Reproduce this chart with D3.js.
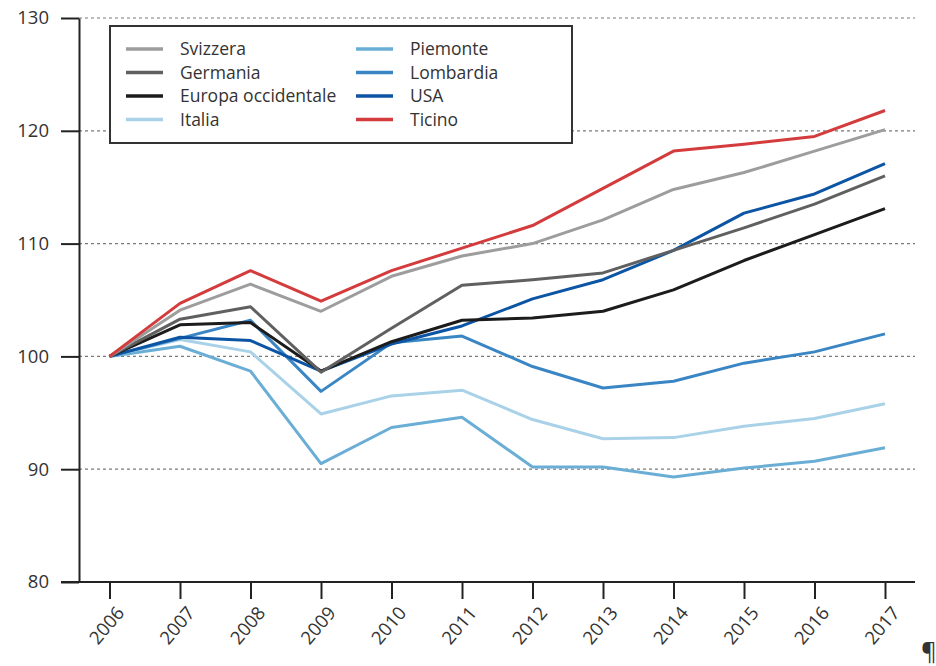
<!DOCTYPE html>
<html><head><meta charset="utf-8">
<script src="https://cdn.jsdelivr.net/npm/d3@7"></script>
<style>body{margin:0;background:#fff;} svg{display:block;} text{font-family:"Open Sans",sans-serif;fill:#333;}</style>
</head><body>
<svg id="c" width="936" height="666"></svg>
<script>
const years = ["2006","2007","2008","2009","2010","2011","2012","2013","2014","2015","2016","2017"];
const yTicks = [80, 90, 100, 110, 120, 130];
const seriesNames = ["Svizzera","Germania","Europa occidentale","Italia","Piemonte","Lombardia","USA","Ticino"];
const seriesColors = ["#9d9d9d","#606060","#1c1c1c","#a9d2e8","#6aaed6","#3a86c4","#0c55a5","#d43b3c"];
const svizzera  = [100,104.1,106.4,104.0,107.1,108.9,110.0,112.1,114.8,116.3,118.2,120.1];
const germania  = [100,103.3,104.4,98.6,102.5,106.3,106.8,107.4,109.4,111.4,113.5,116.0];
const europa    = [100,102.8,103.0,98.7,101.3,103.2,103.4,104.0,105.9,108.5,110.8,113.1];
const italia    = [100,101.5,100.4,94.9,96.5,97.0,94.4,92.7,92.8,93.8,94.5,95.8];
const piemonte  = [100,100.9,98.7,90.5,93.7,94.6,90.2,90.2,89.3,90.1,90.7,91.9];
const lombardia = [100,101.6,103.2,96.9,101.2,101.8,99.1,97.2,97.8,99.4,100.4,102.0];
const usa       = [100,101.7,101.4,98.7,101.1,102.7,105.1,106.8,109.4,112.7,114.4,117.1];
const ticino    = [100,104.7,107.6,104.9,107.6,109.6,111.6,114.9,118.2,118.8,119.5,121.8];
const seriesValues = [svizzera,germania,europa,italia,piemonte,lombardia,usa,ticino];
const drawOrder = [4,3,5,6,2,1,0,7];

const svg = d3.select("#c");
const x = d3.scalePoint().domain(years).range([109.5, 885]);
const y = d3.scaleLinear().domain([80,130]).range([582, 18]);
const axisX0 = 79, plotRight = 915;

// gridlines
svg.append("g").selectAll("line").data(yTicks.filter(d=>d>80)).join("line")
  .attr("x1", axisX0).attr("x2", plotRight)
  .attr("y1", d=>y(d)).attr("y2", d=>y(d))
  .attr("stroke", "#7a7a7a").attr("stroke-width", 1.2).attr("stroke-dasharray", "3,3");

// y axis
const yAxis = svg.append("g").attr("transform", `translate(${axisX0},0)`)
  .call(d3.axisLeft(y).tickValues(yTicks).tickSize(18).tickPadding(12).tickSizeOuter(0));
yAxis.select(".domain").attr("stroke", "#222").attr("stroke-width", 2);
yAxis.selectAll(".tick line").attr("stroke", "#222").attr("stroke-width", 2);
yAxis.selectAll("text").style("font-size", "18.5px").attr("fill", "#333");

// x axis
const xAxis = svg.append("g").attr("transform", `translate(0,582)`)
  .call(d3.axisBottom(x).tickSize(17).tickSizeOuter(0));
xAxis.select(".domain").attr("d", `M61,0H${plotRight}`).attr("stroke", "#222").attr("stroke-width", 2);
xAxis.selectAll(".tick line").attr("stroke", "#222").attr("stroke-width", 2);
xAxis.selectAll("text").style("font-size", "18.5px").attr("fill", "#333")
  .attr("text-anchor", "end").attr("dy", null).attr("y", 0)
  .attr("transform", "translate(3,21) rotate(-50)")
  .attr("dominant-baseline", "hanging");

// lines
const line = d3.line().x((d,i)=>x(years[i])).y(d=>y(d));
svg.append("g").selectAll("path").data(drawOrder).join("path")
  .attr("d", k=>line(seriesValues[k]))
  .attr("fill", "none").attr("stroke", k=>seriesColors[k])
  .attr("stroke-width", 3).attr("stroke-linejoin", "round");

// legend
const lg = svg.append("g");
lg.append("rect").attr("x", 110).attr("y", 26).attr("width", 462).attr("height", 117)
  .attr("fill", "#fff").attr("stroke", "#333").attr("stroke-width", 2);
const items = lg.selectAll("g").data(seriesNames.map((n,i)=>({n,i}))).join("g")
  .attr("transform", d=>`translate(${d.i<4?126:356},${49 + (d.i%4)*23.5})`);
items.append("line").attr("x1",0).attr("x2",37).attr("y1",0).attr("y2",0)
  .attr("stroke", d=>seriesColors[d.i]).attr("stroke-width", 3.5);
items.append("text").attr("x", 54).attr("y", 0).attr("dy", "0.35em")
  .style("font-size", "17.5px").text(d=>d.n);

// pilcrow
svg.append("text").attr("x", 921).attr("y", 660).style("font-size", "24px").attr("fill","#444").text("¶");
</script>
</body></html>
